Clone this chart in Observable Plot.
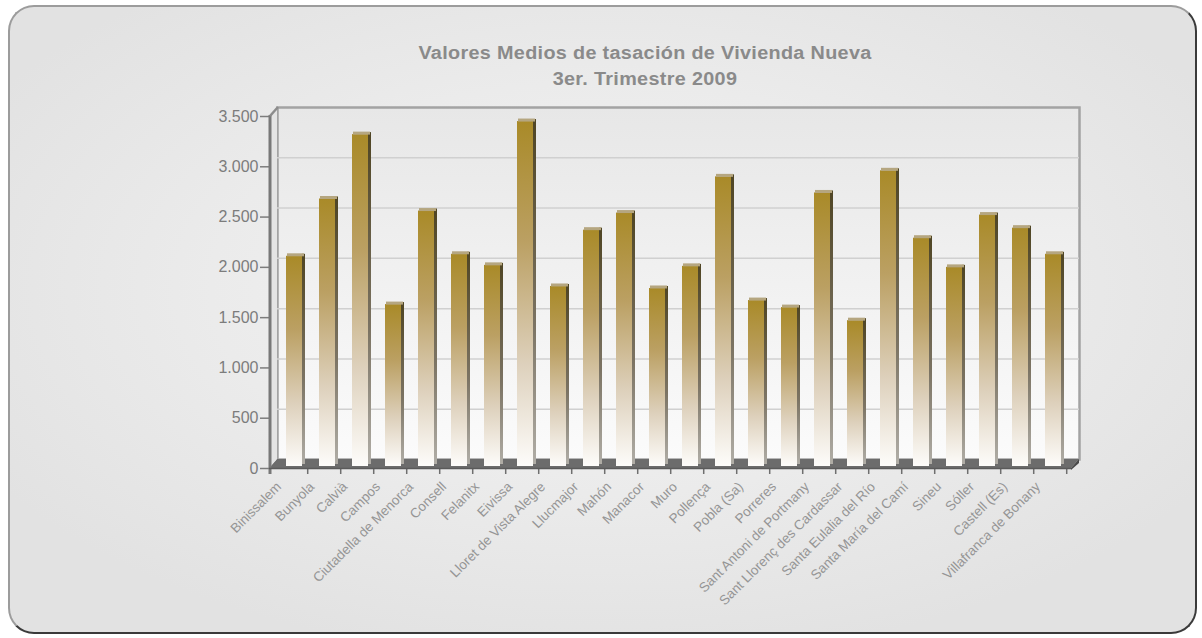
<!DOCTYPE html>
<html><head><meta charset="utf-8">
<script src="https://cdn.jsdelivr.net/npm/d3@7"></script>
<script src="https://cdn.jsdelivr.net/npm/@observablehq/plot@0.6"></script>
<style>
html,body{margin:0;padding:0;background:#fff;width:1202px;height:638px;overflow:hidden;font-family:"Liberation Sans",Arial,sans-serif}
#panel{position:absolute;left:8px;top:5px;width:1185px;height:625px;border-radius:26px;border:2px solid #9c9c9c;border-right-color:#3a3a3a;border-bottom-color:#3a3a3a;
background:radial-gradient(ellipse 60% 60% at 50% 45%, #f4f4f4 0%, #ebebeb 55%, #e2e2e2 100%);}
#title{position:absolute;left:0;top:40px;width:1290px;text-align:center;color:#8a8a8a;font-weight:bold;font-size:18px;line-height:26px;letter-spacing:0.3px;transform:scaleX(1.1);transform-origin:645px 0}
#chart{position:absolute;left:0;top:0}
</style></head>
<body>
<div id="panel"></div>
<div id="title"></div>
<div id="chart"></div>
<script>
const title = "Valores Medios de tasación de Vivienda Nueva";
const subtitle = "3er. Trimestre 2009";
const categories = ["Binissalem","Bunyola","Calvià","Campos","Ciutadella de Menorca","Consell","Felanitx","Eivissa","Lloret de Vista Alegre","Llucmajor","Mahón","Manacor","Muro","Pollença","Pobla (Sa)","Porreres","Sant Antoni de Portmany","Sant Llorenç des Cardassar","Santa Eulalia del Río","Santa María del Camí","Sineu","Sóller","Castell (Es)","Villafranca de Bonany"];
const values = [2090,2660,3300,1610,2540,2110,2000,3430,1790,2350,2520,1770,1990,2880,1650,1580,2720,1450,2940,2270,1980,2500,2370,2110];
const yTicks = [0,500,1000,1500,2000,2500,3000,3500];

document.getElementById("title").innerHTML = title + "<br>" + subtitle;

const data = categories.map((c,i)=>({municipio:c, valor:values[i]}));
const fmt = d3.formatLocale({decimal:",", thousands:".", grouping:[3], currency:["","€"]}).format(",");
const DX = 8, DY = -9;
const W = 1202, H = 638, ML = 269, MR = 131, MT = 116, MB = 170;
const bw = (W - ML - MR) / categories.length;

const plot = Plot.plot({
  width: W, height: H, marginLeft: ML, marginRight: MR, marginTop: MT, marginBottom: MB,
  style: {background: "transparent", fontFamily: '"Liberation Sans", Arial, sans-serif', overflow: "visible"},
  x: {type: "band", domain: categories, padding: 0, axis: null, label: null},
  y: {domain: [0, 3500], axis: null, label: null},
  marks: [
    Plot.frame({dx: DX, dy: DY, fill: "url(#wallGrad)", stroke: "#a3a3a3", strokeWidth: 2.5}),
    Plot.ruleY(yTicks.slice(1, -1), {dx: DX, dy: DY, stroke: "#d0d0d0", strokeWidth: 1.5}),
    Plot.barY(data, {x: "municipio", y: "valor", insetLeft: 28, insetRight: 2, dy: -4, fill: "url(#sideGrad)"}),
    Plot.barY(data, {x: "municipio", y: "valor", insetLeft: 12, insetRight: 5, dy: -2, fill: "url(#barGrad)"}),
    Plot.tickY(data, {x: "municipio", y: "valor", insetLeft: 13, insetRight: 3, dy: -3.5, stroke: "#b5a680", strokeWidth: 3}),
    Plot.axisY({ticks: yTicks, label: null, tickSize: 9, tickPadding: 2, tickFormat: fmt, fontSize: 16, fill: "#7c7c7c", stroke: "#7c7c7c", strokeWidth: 1.5}),
    Plot.axisX({label: null, tickSize: 6, tickFormat: () => "", dx: bw / 2, stroke: "#6f6f6f", strokeWidth: 1.5}),
    Plot.axisX({label: null, tickSize: 0, tickPadding: 4, tickRotate: -45, dx: -12, dy: 12, fontSize: 13.5, fill: "#959595"})
  ]
});

const svg = d3.select(plot);
const defs = svg.insert("defs", ":first-child");
const lg = (id, x2, y2, stops) => {
  const g = defs.append("linearGradient").attr("id", id).attr("x1", 0).attr("y1", 0).attr("x2", x2).attr("y2", y2);
  stops.forEach(([o, c]) => g.append("stop").attr("offset", o).attr("stop-color", c));
};
lg("barGrad", 0, 1, [["0%", "#a98a28"], ["35%", "#bba063"], ["70%", "#ddd0bb"], ["100%", "#fdfcfa"]]);
lg("sideGrad", 0, 1, [["0%", "#4f4524"], ["60%", "#7c7464"], ["100%", "#b0ada6"]]);
lg("wallGrad", 0, 1, [["0%", "#e7e7e7"], ["100%", "#fbfbfb"]]);

const y = plot.scale("y").apply;
const xr = plot.scale("x").range;
const y0 = y(0), yT = y(3500);
const firstBar = plot.querySelector('g[aria-label="bar"]');
const deco = svg.insert("g", () => firstBar);
// floor
deco.append("path").attr("d", `M${xr[0]},${y0} L${xr[1]},${y0} L${xr[1] + DX},${y0 + DY} L${xr[0] + DX},${y0 + DY} Z`).attr("fill", "#6c6c6c");
deco.append("path").attr("d", `M${xr[1]},${y0} L${xr[1] + DX},${y0 + DY} L${xr[1] + DX},${y0 + DY + 4} L${xr[1]},${y0 + 2} Z`).attr("fill", "#4a4a4a");
// left wall
deco.append("path").attr("d", `M${xr[0]},${yT} L${xr[0] + DX},${yT + DY} L${xr[0] + DX},${y0 + DY} L${xr[0]},${y0} Z`).attr("fill", "#e4e4e4");
svg.append("line").attr("x1", xr[0] + 1).attr("x2", xr[0] + 1).attr("y1", yT - 1).attr("y2", y0 + 6).attr("stroke", "#787878").attr("stroke-width", 3);
svg.append("line").attr("x1", xr[0] + 1).attr("x2", xr[0] + DX + 1).attr("y1", yT).attr("y2", yT + DY).attr("stroke", "#8c8c8c").attr("stroke-width", 2.5);
svg.append("line").attr("x1", xr[0]).attr("x2", xr[1]).attr("y1", y0 + 0.5).attr("y2", y0 + 0.5).attr("stroke", "#5a5a5a").attr("stroke-width", 1.5);

document.getElementById("chart").appendChild(plot);
</script>
</body></html>
